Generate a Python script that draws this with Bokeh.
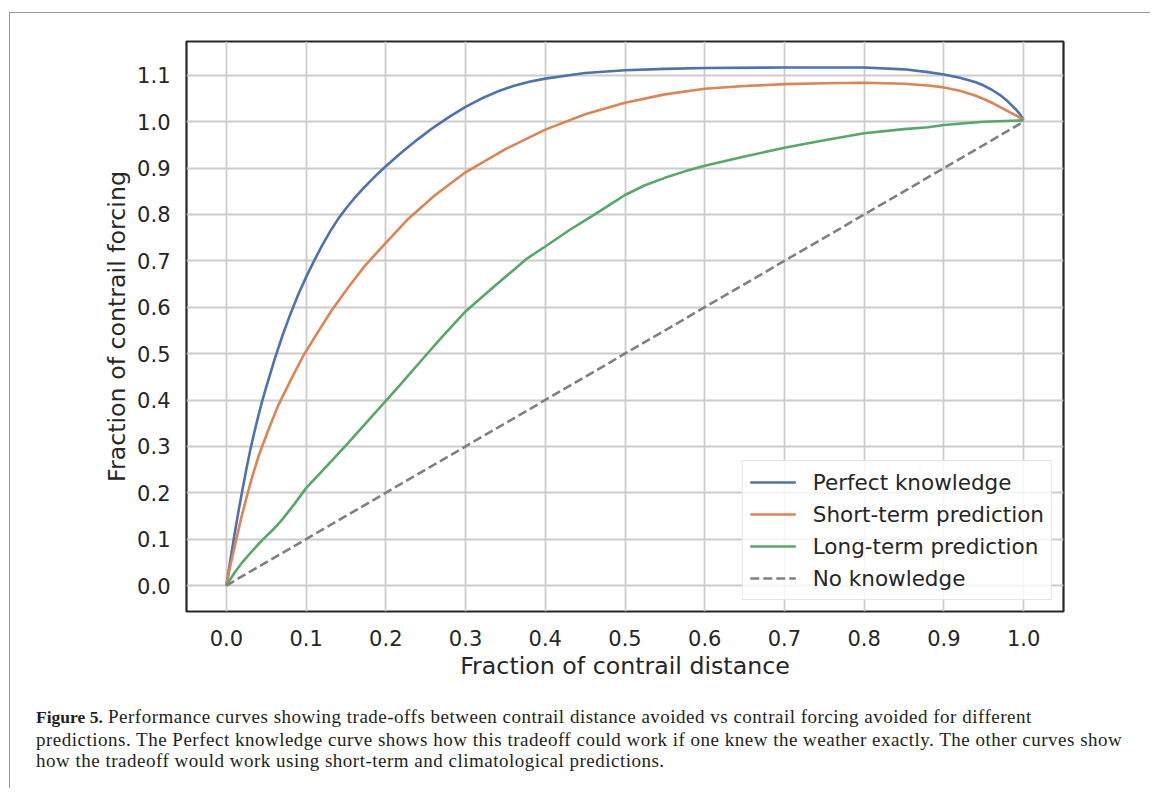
from bokeh.plotting import figure
from bokeh.models import Range1d, FixedTicker, NumeralTickFormatter, Div
from bokeh.layouts import column
from bokeh.embed import file_html
from bokeh.resources import INLINE

# ---- data ----
perfect_x = [0.0, 0.005, 0.01, 0.015, 0.02, 0.025, 0.03, 0.035, 0.04, 0.045, 0.05, 0.06, 0.07, 0.08,
             0.09, 0.10, 0.11, 0.12, 0.13, 0.14, 0.15, 0.16, 0.17, 0.18, 0.19, 0.20, 0.22, 0.24, 0.26,
             0.28, 0.30, 0.32, 0.34, 0.36, 0.38, 0.40, 0.45, 0.50, 0.55, 0.60, 0.70, 0.80, 0.85, 0.88,
             0.90, 0.92, 0.94, 0.95, 0.96, 0.97, 0.98, 0.99, 0.995, 1.0]
perfect_y = [0.0, 0.055, 0.108, 0.158, 0.205, 0.25, 0.292, 0.33, 0.365, 0.398, 0.428, 0.485, 0.537, 0.584,
             0.627, 0.665, 0.70, 0.733, 0.763, 0.790, 0.813, 0.834, 0.853, 0.871, 0.888, 0.904, 0.934, 0.962, 0.988,
             1.011, 1.032, 1.05, 1.065, 1.077, 1.086, 1.093, 1.105, 1.111, 1.114, 1.116, 1.117, 1.117, 1.113, 1.107,
             1.102, 1.095, 1.085, 1.078, 1.069, 1.058, 1.044, 1.027, 1.017, 1.004]

short_x = [0.0, 0.005, 0.0125, 0.019, 0.026, 0.033, 0.041, 0.053, 0.065, 0.081, 0.097, 0.115, 0.132,
           0.153, 0.174, 0.2, 0.229, 0.262, 0.3, 0.35, 0.4, 0.45, 0.5, 0.55, 0.6, 0.65, 0.7, 0.75,
           0.8, 0.85, 0.88, 0.9, 0.92, 0.94, 0.95, 0.96, 0.97, 0.98, 0.99, 1.0]
short_y = [0.0, 0.043, 0.1, 0.148, 0.1945, 0.238, 0.282, 0.337, 0.388, 0.444, 0.497, 0.547, 0.593,
           0.643, 0.69, 0.739, 0.792, 0.842, 0.891, 0.941, 0.983, 1.016, 1.041, 1.059, 1.071, 1.077, 1.081, 1.083,
           1.084, 1.082, 1.078, 1.074, 1.067, 1.056, 1.049, 1.041, 1.032, 1.023, 1.014, 1.004]

long_x = [0.0, 0.01, 0.02, 0.03, 0.045, 0.06, 0.07, 0.085, 0.1, 0.125, 0.15, 0.175, 0.2, 0.216,
          0.25, 0.27, 0.3, 0.32, 0.338, 0.36, 0.377, 0.4, 0.43, 0.46, 0.489, 0.5, 0.525, 0.55, 0.575,
          0.6, 0.65, 0.7, 0.75, 0.8, 0.85, 0.88, 0.9, 0.95, 1.0]
long_y = [0.0, 0.027, 0.05, 0.07, 0.098, 0.123, 0.142, 0.175, 0.21, 0.256, 0.302, 0.35, 0.398, 0.429,
          0.496, 0.535, 0.591, 0.621, 0.648, 0.68, 0.705, 0.731, 0.766, 0.798, 0.83, 0.842, 0.863, 0.879, 0.893,
          0.905, 0.925, 0.944, 0.96, 0.975, 0.984, 0.988, 0.993, 1.0, 1.003]

none_x = [0.0, 1.0]
none_y = [0.0, 1.0]

series_names = ["Perfect knowledge", "Short-term prediction", "Long-term prediction", "No knowledge"]
series_colors = ["#4c72b0", "#dd8452", "#55a868", "#808080"]

x_ticks = [0.0, 0.1, 0.2, 0.3, 0.4, 0.5, 0.6, 0.7, 0.8, 0.9, 1.0]
y_ticks = [0.0, 0.1, 0.2, 0.3, 0.4, 0.5, 0.6, 0.7, 0.8, 0.9, 1.0, 1.1]

x_label = "Fraction of contrail distance"
y_label = "Fraction of contrail forcing"

caption_bold = "Figure 5."
caption_lines = [
    "Performance curves showing trade-offs between contrail distance avoided vs contrail forcing avoided for different",
    "predictions. The Perfect knowledge curve shows how this tradeoff could work if one knew the weather exactly. The other curves show",
    "how the tradeoff would work using short-term and climatological predictions.",
]

# ---- figure ----
FONT = "DejaVu Sans"
TXT = "#262626"

p = figure(frame_width=877, frame_height=570,
           x_range=Range1d(-0.05, 1.05), y_range=Range1d(-0.056, 1.173),
           output_backend="svg", toolbar_location=None,
           min_border_left=176, min_border_right=77, min_border_top=28, min_border_bottom=82,
           background_fill_color="white", border_fill_color="white")

p.outline_line_color = TXT
p.outline_line_width = 2.2

for ax in (p.xaxis[0], p.yaxis[0]):
    ax.axis_line_color = None
    ax.major_tick_line_color = None
    ax.minor_tick_line_color = None
    ax.major_label_text_font = FONT
    ax.major_label_text_font_size = "21px"
    ax.major_label_text_color = TXT
    ax.axis_label_text_font = FONT
    ax.axis_label_text_font_size = "23.7px"
    ax.axis_label_text_font_style = "normal"
    ax.axis_label_text_color = TXT
    ax.formatter = NumeralTickFormatter(format="0.0")

p.xaxis[0].ticker = FixedTicker(ticks=x_ticks)
p.yaxis[0].ticker = FixedTicker(ticks=y_ticks)
p.xaxis[0].axis_label = x_label
p.yaxis[0].axis_label = y_label
p.xaxis[0].major_label_standoff = 12
p.yaxis[0].major_label_standoff = 10
p.xaxis[0].axis_label_standoff = 3
p.yaxis[0].axis_label_standoff = 3

p.xgrid[0].ticker = FixedTicker(ticks=x_ticks)
p.ygrid[0].ticker = FixedTicker(ticks=y_ticks)
for g in (p.xgrid[0], p.ygrid[0]):
    g.grid_line_color = "#cccccc"
    g.grid_line_width = 1.8

data = [(perfect_x, perfect_y), (short_x, short_y), (long_x, long_y), (none_x, none_y)]
for (xs, ys), name, col in zip(data, series_names, series_colors):
    if name == "No knowledge":
        p.line(xs, ys, line_color=col, line_width=2.6, line_dash="9 4", legend_label=name)
    else:
        p.line(xs, ys, line_color=col, line_width=2.6, line_join="round", legend_label=name)

lg = p.legend[0]
lg.location = "bottom_right"
lg.margin = 11
lg.padding = 7
lg.spacing = 4
lg.glyph_width = 46
lg.glyph_height = 28
lg.label_height = 28
lg.label_standoff = 17
lg.label_text_font = FONT
lg.label_text_font_size = "21.5px"
lg.label_text_color = TXT
lg.border_line_color = "#cccccc"
lg.border_line_width = 1.2
lg.background_fill_color = "white"
lg.background_fill_alpha = 0.8

caption_html = (
    '<div style="font-family:\'Liberation Serif\', serif; font-size:19px; line-height:21.7px; '
    'color:#231f20; white-space:nowrap; letter-spacing:0.5px; padding:8px 0 0 21px;">'
    + '<b style="font-size:17.5px; letter-spacing:0;">' + caption_bold + "</b> "
    + caption_lines[0] + "<br>"
    + caption_lines[1] + "<br>" + caption_lines[2] + "</div>"
)
cap = Div(text=caption_html, width=1130, height=85)

layout = column(p, cap, spacing=0,
                styles={"border-left": "1px solid #9a9a9a", "border-top": "1px solid #9a9a9a",
                        "margin-left": "9px", "margin-top": "12px"})

open("out.html", "w").write(file_html(layout, INLINE))
